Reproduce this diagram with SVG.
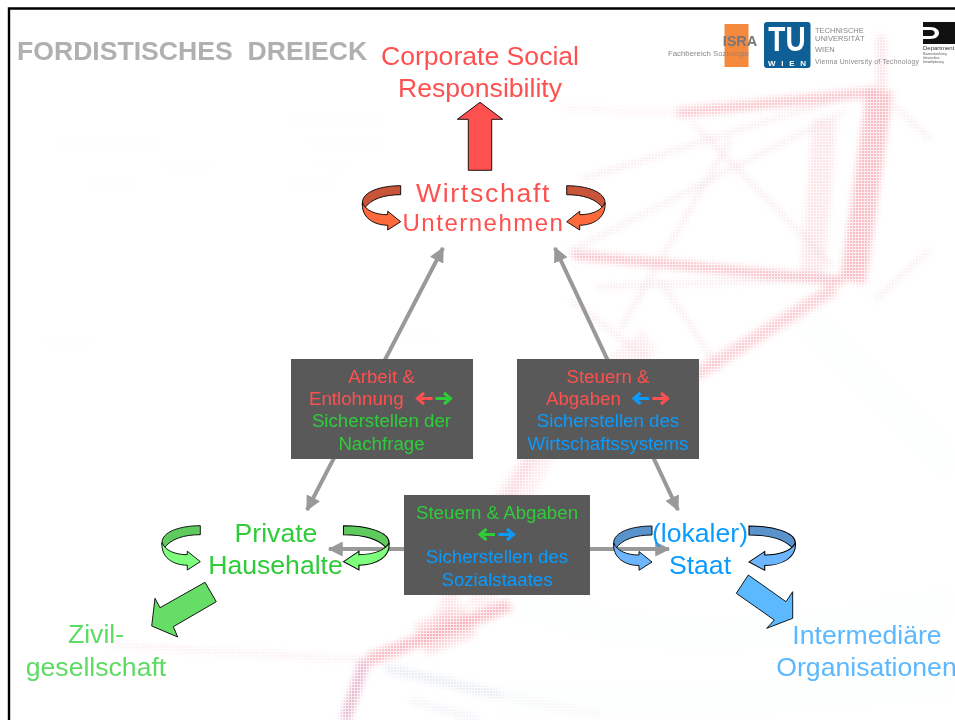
<svg xmlns="http://www.w3.org/2000/svg" width="955" height="720" viewBox="0 0 955 720">
<style>
text{font-family:"Liberation Sans",Arial,sans-serif;text-anchor:middle;white-space:pre}
.l{font-size:26.6px}
.b{font-size:18.7px}
.red{fill:#ff5050}.grn{fill:#2fcc3a}.blu{fill:#0a9bff}
.bk,.fr,.big{stroke:#000;stroke-width:.9;stroke-linejoin:miter}
.conn{stroke:#999;stroke-width:4;fill:none}
.ar{fill:none;stroke-width:3}
.logo{text-anchor:start;fill:#888}
</style>
<defs>
<marker id="ah" viewBox="0 0 12 12" refX="11" refY="6" markerUnits="userSpaceOnUse" markerWidth="15" markerHeight="15" orient="auto-start-reverse"><path d="M0,0 L12,6 L0,12 Z" fill="#999"/></marker>
<path id="cb" d="M0,0 L0,9 C-16,9 -30,13 -36.5,23 C-38,21 -38.3,19 -38.3,17 C-38.3,6 -20,0 0,0Z"/>
<path id="cf" d="M-38.3,17 C-35,25 -25,29 -13,29 L-13,25.5 L0,36 L-13,44.3 L-13,39.5 C-28,39.5 -39.5,31 -38.3,17Z"/>
<path id="al" d="M16.5,0 H1.5 M8,-5.5 L1.5,0 L8,5.5"/>
<pattern id="mesh" width="3" height="3" patternUnits="userSpaceOnUse"><rect width="3" height="1" fill="#fff"/><rect width="1" height="3" fill="#fff"/></pattern>
<filter id="soft" x="-5%" y="-5%" width="110%" height="110%"><feGaussianBlur stdDeviation="3"/></filter>
</defs>
<rect width="955" height="720" fill="#fff"/>
<g id="background">
<g filter="url(#soft)" fill="none" stroke-linecap="butt">
<g stroke="#f1f4f7" stroke-width="34" opacity=".22">
<path d="M520,600 C640,650 800,640 955,600"/><path d="M500,700 C640,700 800,700 955,680"/><path d="M800,310 L955,470"/>
</g>
<g stroke="#f6a6b0">
<path d="M881,35 L881,90" stroke-width="10" opacity=".35"/>
<path d="M880,90 L853,282" stroke-width="26" opacity=".75"/>
<path d="M825,120 L812,275" stroke-width="24" opacity=".3"/>
<path d="M876,92 L677,113" stroke-width="10" opacity=".7"/>
<path d="M677,113 L560,108" stroke-width="3" opacity=".3"/>
<path d="M573,255 L843,281" stroke-width="9" opacity=".75"/>
<path d="M835,288 L700,372 L610,420" stroke-width="13" opacity=".6"/>
<path d="M510,605 L368,660" stroke-width="13" opacity=".8"/>
<path d="M650,340 C570,400 510,480 480,610" stroke-width="26" opacity=".22"/>
<path d="M580,400 C530,450 470,540 440,625" stroke-width="16" opacity=".3"/>
<path d="M470,620 L420,640" stroke-width="34" opacity=".45"/>
</g>
<g stroke="#e8b4c2" stroke-width="3" opacity=".55">
<path d="M567,253 L847,110"/>
<path d="M597,287 L833,278"/>
<path d="M693,123 L833,267"/>
<path d="M580,180 L850,95"/>
<path d="M620,330 L730,140"/>
<path d="M570,300 L650,360"/>
<path d="M660,280 L720,370"/>
<path d="M875,300 L930,250"/>
<path d="M895,105 L930,140"/>
<path d="M110,645 L363,660" stroke-width="2.5"/>
</g>
<path d="M365,660 L345,720" stroke="#dc9ab8" stroke-width="11" opacity=".75"/>
<path d="M385,668 L500,695" stroke="#d5dbea" stroke-width="9" opacity=".6"/>
<path d="M410,700 L480,720" stroke="#dfe3ee" stroke-width="7" opacity=".5"/>
<path d="M500,695 L600,715" stroke="#e3e6ec" stroke-width="4" opacity=".5"/>
<g stroke="#eeeeee" stroke-width="2" opacity=".6">
<path d="M55,144 H158"/><path d="M165,167 H210"/><path d="M92,185 H134"/><path d="M290,121 H380"/><path d="M315,165 H350"/><path d="M290,182 H335"/>
<path d="M310,144 H380"/><path d="M45,341 H90"/><path d="M390,340 H440"/>
</g>
</g>
<rect width="955" height="720" fill="url(#mesh)" opacity=".7"/>
</g>
<g id="frame"><path d="M9,720 V8.5 H955" fill="none" stroke="#000" stroke-width="2.4"/></g>
<text x="17" y="60" style="text-anchor:start" font-size="26.6" font-weight="700" fill="#b0b0b0">FORDISTISCHES  DREIECK</text>
<g id="logos">
<rect x="724.5" y="24" width="24" height="43" fill="#f58a3f"/>
<text x="740" y="46" font-size="14.5" font-weight="700" fill="#777">ISRA</text>
<text x="668" y="56" class="logo" font-size="7.8">Fachbereich Soziologie</text>
<rect x="764" y="22" width="46.5" height="46" rx="3" fill="#0d5f95"/>
<text transform="translate(787,51) scale(1,1.25)" font-size="28" font-weight="700" fill="#fff">TU</text>
<text x="787" y="66" font-size="8" font-weight="700" fill="#fff" textLength="38">WIEN</text>
<text x="815" y="33" class="logo" font-size="7.5">TECHNISCHE</text>
<text x="815" y="41" class="logo" font-size="7.5">UNIVERSITÄT</text>
<text x="815" y="52" class="logo" font-size="7.5">WIEN</text>
<text x="815" y="64" class="logo" font-size="6.8" textLength="104">Vienna University of Technology</text>
<path d="M923,22 H955 V44 H923 V39 H930 C942,39 942,27 930,27 H923 Z" fill="#111"/>
<path d="M923,30 H931 C936,30 936,36 931,36 H923 Z" fill="#111"/>
<text x="923" y="50" class="logo" font-size="6" style="fill:#333">Department</text>
<text x="923" y="55" class="logo" font-size="3" style="fill:#555">Raumentwicklung</text>
<text x="923" y="59" class="logo" font-size="3" style="fill:#555">Infrastruktur-</text>
<text x="923" y="63" class="logo" font-size="3" style="fill:#555">Umweltplanung</text>
</g>
<g id="connectors">
<path class="conn" d="M443,248 L307,510" marker-start="url(#ah)" marker-end="url(#ah)"/>
<path class="conn" d="M555,248 L678,510" marker-start="url(#ah)" marker-end="url(#ah)"/>
<path class="conn" d="M329,549 H669" marker-start="url(#ah)" marker-end="url(#ah)"/>
</g>
<g id="node-csr">
<path class="big" fill="#ff5050" d="M480,102.3 L502.7,119.3 H491.7 V170.3 H468.3 V119.3 H457.3Z"/>
<text x="480" y="65" class="l red">Corporate Social</text>
<text x="480" y="97" class="l red">Responsibility</text>
</g>
<g id="node-wirtschaft">
<use href="#cb" x="400.7" y="185.7" class="bk" fill="#c8553a"/>
<use href="#cf" x="400.7" y="185.7" class="fr" fill="#ff6a3c"/>
<g transform="translate(566.7,185.7) scale(-1,1)"><use href="#cb" class="bk" fill="#c8553a"/><use href="#cf" class="fr" fill="#ff6a3c"/></g>
<text x="483.5" y="202" class="l red" letter-spacing="1.7">Wirtschaft</text>
<text x="483.5" y="231" class="red" font-size="24" letter-spacing="1.5">Unternehmen</text>
</g>
<g id="node-haushalte">
<use href="#cb" x="200.3" y="525.7" class="bk" fill="#5fcb5f"/>
<use href="#cf" x="200.3" y="525.7" class="fr" fill="#7eff7e"/>
<g transform="translate(343.5,525.7) scale(-1.19,1)"><use href="#cb" class="bk" fill="#5fcb5f"/><use href="#cf" class="fr" fill="#7eff7e"/></g>
<text x="276" y="542" class="l grn">Private</text>
<text x="275.5" y="574" class="l grn">Hausehalte</text>
</g>
<g id="node-staat">
<use href="#cb" x="652" y="526" class="bk" fill="#5a92cc"/>
<use href="#cf" x="652" y="526" class="fr" fill="#6db6ff"/>
<g transform="translate(749,526) scale(-1.21,1)"><use href="#cb" class="bk" fill="#5a92cc"/><use href="#cf" class="fr" fill="#6db6ff"/></g>
<text x="700" y="542" class="l blu">(lokaler)</text>
<text x="700" y="574" class="l blu">Staat</text>
</g>
<g id="node-zivil">
<path class="big" fill="#66dd66" d="M205,582.3 L216.3,601.7 L173.3,626.7 L177.7,637 L151.7,626 L155,598.3 L160,607.7Z"/>
<text x="96" y="643" class="l" fill="#5ddb62">Zivil-</text>
<text x="96" y="676" class="l" fill="#5ddb62">gesellschaft</text>
</g>
<g id="node-intermediaere">
<path class="big" fill="#5cb8ff" d="M748.3,575 L736.3,593.3 L774.3,620 L766.7,628.3 L792.7,618.3 L792.7,591.7 L786,601.7Z"/>
<text x="867" y="644" class="l" fill="#5cb8ff">Intermediäre</text>
<text x="866.5" y="676" class="l" fill="#5cb8ff">Organisationen</text>
</g>
<g id="box-arbeit">
<rect x="291" y="359" width="182" height="100" fill="#595959"/>
<text x="381.5" y="383" class="b red">Arbeit &amp;</text>
<text x="309" y="405" class="b red" style="text-anchor:start">Entlohnung</text>
<use href="#al" x="416" y="398.5" class="ar" stroke="#ff5050"/>
<g transform="translate(452,398.5) scale(-1,1)"><use href="#al" class="ar" stroke="#2fcc3a"/></g>
<text x="381.5" y="427" class="b grn">Sicherstellen der</text>
<text x="381.5" y="450" class="b grn">Nachfrage</text>
</g>
<g id="box-steuern">
<rect x="517" y="359" width="182" height="100" fill="#595959"/>
<text x="608" y="383" class="b red">Steuern &amp;</text>
<text x="546" y="405" class="b red" style="text-anchor:start">Abgaben</text>
<use href="#al" x="632.5" y="398.5" class="ar" stroke="#0a9bff"/>
<g transform="translate(669,398.5) scale(-1,1)"><use href="#al" class="ar" stroke="#ff5050"/></g>
<text x="608" y="427" class="b blu">Sicherstellen des</text>
<text x="608" y="450" class="b blu">Wirtschaftssystems</text>
</g>
<g id="box-sozial">
<rect x="404" y="495" width="186" height="100" fill="#595959"/>
<text x="497" y="519" class="b grn">Steuern &amp; Abgaben</text>
<use href="#al" x="478.5" y="534.5" class="ar" stroke="#2fcc3a"/>
<g transform="translate(515,534.5) scale(-1,1)"><use href="#al" class="ar" stroke="#0a9bff"/></g>
<text x="497" y="563" class="b blu">Sicherstellen des</text>
<text x="497" y="586" class="b blu">Sozialstaates</text>
</g>
</svg>
